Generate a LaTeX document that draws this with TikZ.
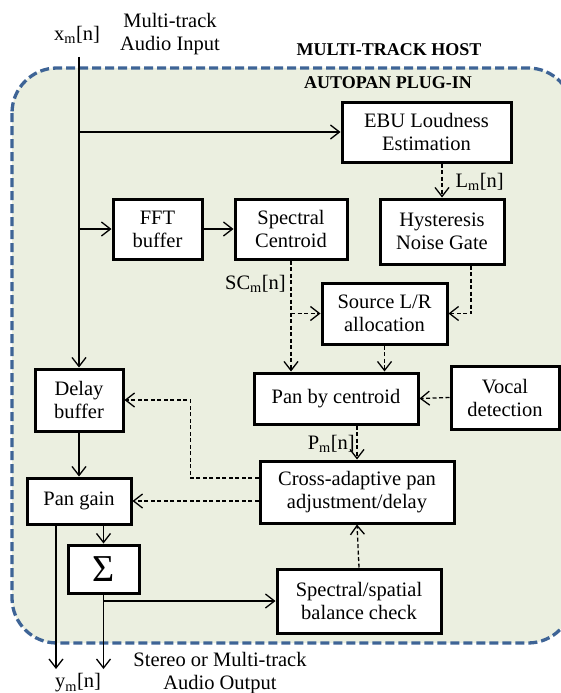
\documentclass[tikz,border=0pt]{standalone}
\usepackage{fontspec}
\setmainfont{Liberation Serif}
\usetikzlibrary{arrows.meta}
\definecolor{hostblue}{RGB}{62,100,150}
\definecolor{plugfill}{RGB}{235,239,224}
\tikzset{
  block/.style = {draw, line width=3pt, fill=white, align=center, inner sep=0pt, font=\fontsize{20.5}{23}\selectfont},
  lbl/.style = {inner sep=0pt, align=center, font=\fontsize{20.5}{23}\selectfont},
  title/.style = {inner sep=0pt, font=\fontsize{18}{21}\selectfont\bfseries},
  sig/.style = {line width=1.3pt, -{Straight Barb[length=9pt, width=14pt, line width=1.3pt]}},
  ctl/.style = {sig, dash pattern=on 4pt off 2.5pt}
}
\begin{document}
\begin{tikzpicture}[x=1pt, y=-1pt]
\useasboundingbox (0,0) rectangle (561,693);
\draw [hostblue, fill=plugfill, line width=3.3pt, dash pattern=on 9pt off 4pt, rounded corners=45pt] (12,68) rectangle (573,643);
\node [title] (host) at (389,50) {MULTI-TRACK HOST};
\node [title] (plugin) at (388,83) {AUTOPAN PLUG-IN};
\node [lbl] (xlbl) at (77,35) {x\textsubscript{m}[n]};
\node [lbl] (inlbl) at (170,34) {Multi-track\\Audio Input};
\node [lbl] (ylbl) at (78,683) {y\textsubscript{m}[n]};
\node [lbl] (outlbl) at (220,673) {Stereo or Multi-track\\Audio Output};
\coordinate (xin) at (79,57);
\coordinate (yout) at (56,669);

\node [block, minimum width=169pt, minimum height=60pt] (ebu) at (426.5,132) {EBU Loudness\\Estimation};
\node [block, minimum width=124pt, minimum height=65pt] (hyst) at (442,231.5) {Hysteresis\\Noise Gate};
\node [block, minimum width=89pt, minimum height=60pt] (fft) at (157.5,229) {FFT\\buffer};
\node [block, minimum width=112pt, minimum height=60pt] (sc) at (291,229) {Spectral\\Centroid};
\node [block, minimum width=125pt, minimum height=61pt] (src) at (384.5,313.5) {Source L/R\\allocation};
\node [block, minimum width=164pt, minimum height=51pt] (pan) at (336,398.5) {Pan by centroid};
\node [block, minimum width=108pt, minimum height=63pt] (vocal) at (505,397.5) {Vocal\\detection};
\node [block, minimum width=194pt, minimum height=62pt] (cross) at (357,492) {Cross-adaptive pan\\adjustment/delay};
\node [block, minimum width=88pt, minimum height=62pt] (delay) at (79,400) {Delay\\buffer};
\node [block, minimum width=104pt, minimum height=46pt] (gain) at (79,501) {Pan gain};
\node [block, minimum width=71pt, minimum height=48pt, font=\fontsize{38}{38}\selectfont] (sum) at (103.5,569) {Σ};
\node [block, minimum width=164pt, minimum height=64pt] (bal) at (359,601) {Spectral/spatial\\balance check};

\node [lbl, anchor=east] (lm) at (504,182) {L\textsubscript{m}[n]};
\node [lbl, anchor=east] (sclbl) at (286,284) {SC\textsubscript{m}[n]};
\node [lbl, anchor=east] (pmlbl) at (355,444) {P\textsubscript{m}[n]};

\draw [sig] (xin) -- (delay.north);
\draw [sig] (ebu.west -| xin) -- (ebu.west);
\draw [sig] (fft.west -| xin) -- (fft.west);
\draw [sig] (fft.east) -- (sc.west);
\draw [sig] (delay.south) -- (gain.north);
\draw [sig] (gain.south -| sum.north) -- (sum.north);
\draw [sig] (gain.south -| yout) -- (yout);
\draw [sig] (sum.south) -- (sum.south |- yout);
\draw [sig] (sum.south |- bal.west) -- (bal.west);

\draw [ctl] (ebu.south -| hyst.north) -- (hyst.north);
\draw [ctl] (sc.south) -- (sc.south |- pan.north);
\draw [ctl] (sc.south |- src.west) -- (src.west);
\draw [ctl] ([xshift=29pt]hyst.south) |- (src.east);
\draw [ctl] (src.south) -- (src.south |- pan.north);
\draw [ctl] (vocal.west) -- (pan.east);
\draw [ctl] (pan.south -| cross.north) -- (cross.north);
\draw [ctl] ([yshift=14pt]cross.west) -- ++(-68,0) |- (delay.east);
\draw [ctl] ([yshift=-9pt]cross.west) -- (gain.east);
\draw [ctl] (bal.north) -- (cross.south);
\end{tikzpicture}
\end{document}
